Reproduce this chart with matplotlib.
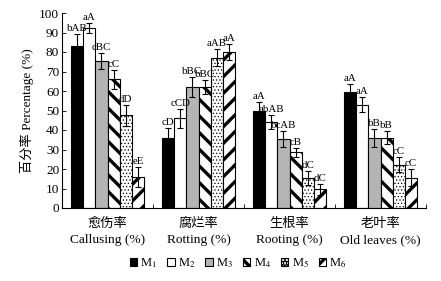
import matplotlib
matplotlib.use("Agg")
import matplotlib.pyplot as plt
import numpy as np

plt.rcParams['font.family'] = ['Liberation Serif', 'Noto Sans CJK SC']
plt.rcParams['mathtext.fontset'] = 'stix'

groups_cn = ["愈伤率", "腐烂率", "生根率", "老叶率"]
groups_en = ["Callusing (%)", "Rotting (%)", "Rooting (%)", "Old leaves (%)"]
series = ["M$_1$", "M$_2$", "M$_3$", "M$_4$", "M$_5$", "M$_6$"]

# values[series][group]
values = [
    [83, 36, 49.5, 59.5],
    [92.5, 46, 44, 53],
    [75.5, 62, 35.5, 36],
    [66, 62, 28.5, 36],
    [47.5, 77, 15.5, 22.3],
    [16, 80, 9.5, 15.5],
]
errors = [
    [6, 5, 5, 4],
    [2.5, 5, 3.7, 3.8],
    [4, 5, 4, 4.5],
    [5, 3.5, 2.5, 3.4],
    [5.5, 4.3, 3.5, 4],
    [5, 4, 3, 4.3],
]
letters = [
    ["bAB", "cD", "aA", "aA"],
    ["aA", "cCD", "abAB", "aA"],
    ["cBC", "bBC", "bcAB", "bB"],
    ["cC", "bBC", "cB", "bB"],
    ["dD", "aAB", "dC", "cC"],
    ["eE", "aA", "dC", "cC"],
]

styles = [
    dict(facecolor="black", hatch=None, hlw=1.0),
    dict(facecolor="white", hatch=None, hlw=1.0),
    dict(facecolor="#b4b4b4", hatch=None, hlw=1.0),
    dict(facecolor="white", hatch="\\\\", hlw=2.4),
    dict(facecolor="white", hatch=".....", hlw=0.5),
    dict(facecolor="white", hatch="//", hlw=2.4),
]

fig = plt.figure(figsize=(4.41, 2.81), dpi=100)
ax = fig.add_axes([62/441, 1-208/281, 364/441, 195/281])

n = len(series)
w = 0.8 / n
x = np.arange(len(groups_cn))
for j in range(n):
    st = styles[j]
    plt.rcParams['hatch.linewidth'] = st['hlw']
    pos = x + 0.1 + w*j + w/2
    bars = ax.bar(pos, values[j], width=w, edgecolor="black", linewidth=0.8,
                  label=series[j], facecolor=st['facecolor'], hatch=st['hatch'])
    for b in bars:
        if hasattr(b, 'set_hatch_linewidth'):
            b.set_hatch_linewidth(st['hlw'])
    ax.errorbar(pos, values[j], yerr=errors[j], fmt='none', ecolor='black',
                elinewidth=0.8, capsize=2.2, capthick=0.8)
    for k in range(len(x)):
        ax.text(pos[k], values[j][k] + errors[j][k] + 0.5, letters[j][k],
                ha='center', va='bottom', fontsize=7.8)

ax.set_xlim(0, 4)
ax.set_ylim(0, 100)
ax.set_yticks(np.arange(0, 101, 10))
ax.set_xticks([0, 1, 2, 3, 4])
ax.set_xticklabels([])
ax.tick_params(axis='x', direction='in', length=3, width=0.6)
ax.tick_params(axis='y', direction='in', length=3, width=0.6, labelsize=9.5, pad=2)
for s in ['top', 'right']:
    ax.spines[s].set_visible(False)
for s in ['left', 'bottom']:
    ax.spines[s].set_linewidth(0.8)

for k in range(len(x)):
    ax.text(k + 0.5, -5, groups_cn[k], ha='center', va='top', fontsize=9.5)
    ax.text(k + 0.5, -13.5, groups_en[k], ha='center', va='top', fontsize=9.6)

ax.set_ylabel("百分率 Percentage (%)", fontsize=9.5, labelpad=4)

fig.legend(loc='center', bbox_to_anchor=(0.54, 1-263/281), ncol=6, frameon=False,
           fontsize=9, handlelength=0.6, handleheight=0.6, handletextpad=0.25,
           columnspacing=0.8, borderaxespad=0)

fig.savefig("out.png", dpi=100)
